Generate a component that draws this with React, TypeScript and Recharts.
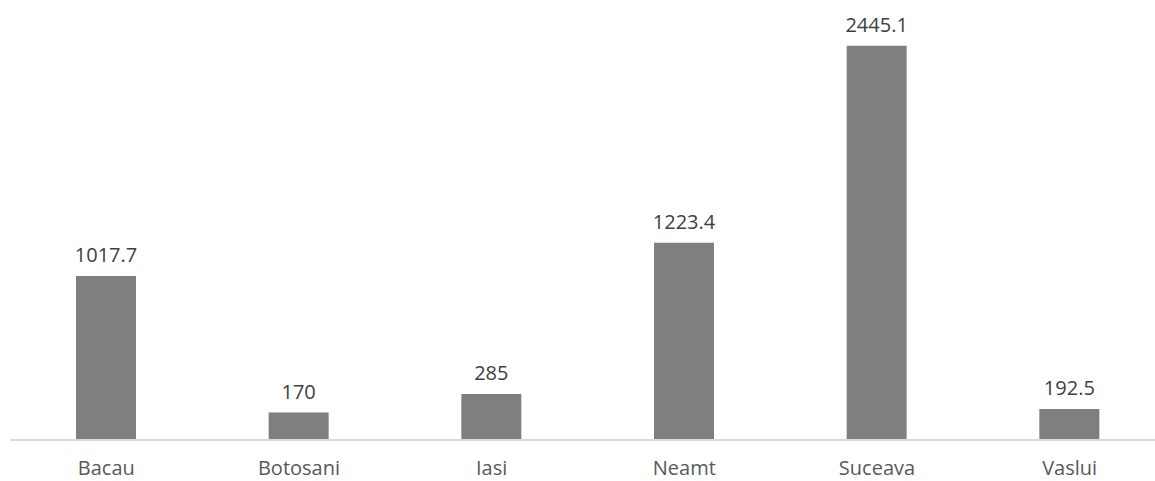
import { BarChart, Bar, XAxis, YAxis, LabelList } from 'recharts';

const counties = ['Bacau', 'Botosani', 'Iasi', 'Neamt', 'Suceava', 'Vaslui'];
const values = [1017.7, 170, 285, 1223.4, 2445.1, 192.5];

const data = counties.map((name, i) => ({ name, value: values[i] }));

const font = '"Open Sans", sans-serif';

export default function App() {
  return (
    <div
      style={{
        position: 'absolute',
        left: 0,
        top: 0,
        width: 1155,
        height: 481,
        overflow: 'hidden',
        background: '#fff',
      }}
    >
      <BarChart
        width={1166}
        height={481}
        data={data}
        margin={{ top: 37, right: 0, bottom: 0, left: 10 }}
      >
        <XAxis
          dataKey="name"
          height={41}
          axisLine={{ stroke: '#d9d9d9', strokeWidth: 2 }}
          tickLine={false}
          tickMargin={15}
          tick={{ fill: '#595959', fontSize: 20, fontFamily: font }}
          interval={0}
        />
        <YAxis hide domain={[0, 2500]} />
        <Bar dataKey="value" fill="#7f7f7f" barSize={60} isAnimationActive={false}>
          <LabelList
            dataKey="value"
            position="top"
            offset={14}
            fill="#404040"
            fontSize={20}
            fontFamily={font}
          />
        </Bar>
      </BarChart>
    </div>
  );
}
